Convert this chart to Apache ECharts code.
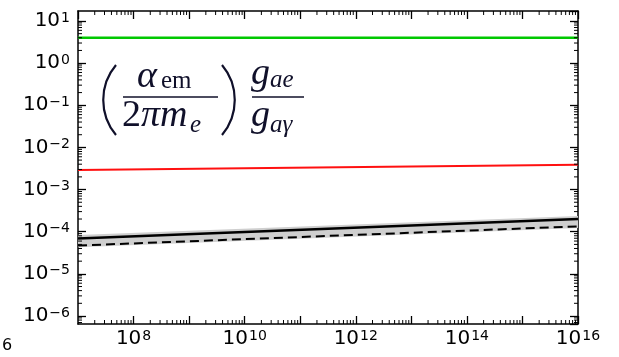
<!DOCTYPE html>
<html>
<head>
<meta charset="utf-8">
<script src="https://cdn.jsdelivr.net/npm/echarts@6/dist/echarts.min.js"></script>
<style>
  html, body { margin: 0; padding: 0; background: #fff; }
  #main { width: 619px; height: 357px; }
</style>
</head>
<body>
<div id="main"></div>
<script>
// axis ranges (log scale)
var xMin = 1e7, xMax = 1e16;
var yMin = Math.pow(10, -6.19), yMax = Math.pow(10, 1.237);

// curves at the two ends
var greenLine = [[1e7, 4.0], [1e16, 4.0]];
var redLine = [[1e7, 2.93e-3], [1e16, 3.9e-3]];
var blackSolid = [[1e7, 6.9e-5], [1e16, 2.0e-4]];
var blackDashed = [[1e7, 4.7e-5], [1e16, 1.34e-4]];
var bandUpper = [[1e7, 8.3e-5], [1e16, 2.35e-4]];
var bandLower = [[1e7, 4.3e-5], [1e16, 1.22e-4]];

// minor tick values (2..9 in each decade)
var xMinorTicks = [];
for (var d = 7; d < 16; d++) {
  for (var k = 2; k <= 9; k++) xMinorTicks.push([k * Math.pow(10, d), 1]);
}
var yMinorTicks = [];
for (var e = -7; e <= 1; e++) {
  for (var m = 2; m <= 9; m++) {
    var v = m * Math.pow(10, e);
    if (v > yMin && v < yMax) yMinorTicks.push([1e10, v]);
  }
}

var myChart = echarts.init(document.getElementById('main'));

function powLabel(val, evenOnly) {
  var p = Math.round(Math.log(val) / Math.LN10);
  if (evenOnly && p % 2 !== 0) return '';
  var s = p < 0 ? '\u2212' + (-p) : '' + p;
  return '{b|10}{s|' + s + '}';
}
function labelRich() {
  return {
    b: { fontFamily: 'DejaVu Sans', fontSize: 20, color: '#000', verticalAlign: 'bottom' },
    s: { fontFamily: 'DejaVu Sans', fontSize: 14, color: '#000', verticalAlign: 'top', padding: [0, 0, 0, 1] }
  };
}
function axisLine() { return { show: true, lineStyle: { color: '#000', width: 1.5 } }; }
function majorTick() { return { show: true, inside: true, length: 8, lineStyle: { color: '#000', width: 1.3 } }; }

function minorX(params, api) {
  var cs = params.coordSys;
  var x = api.coord([api.value(0), 1])[0];
  var b = cs.y + cs.height;
  return {
    type: 'group',
    children: [
      { type: 'line', shape: { x1: x, y1: b, x2: x, y2: b - 4 }, style: { stroke: '#000', lineWidth: 1 } },
      { type: 'line', shape: { x1: x, y1: cs.y, x2: x, y2: cs.y + 4 }, style: { stroke: '#000', lineWidth: 1 } }
    ]
  };
}
function minorY(params, api) {
  var cs = params.coordSys;
  var y = api.coord([1e10, api.value(1)])[1];
  var r = cs.x + cs.width;
  return {
    type: 'group',
    children: [
      { type: 'line', shape: { x1: cs.x, y1: y, x2: cs.x + 4, y2: y }, style: { stroke: '#000', lineWidth: 1 } },
      { type: 'line', shape: { x1: r, y1: y, x2: r - 4, y2: y }, style: { stroke: '#000', lineWidth: 1 } }
    ]
  };
}
function bandItem(params, api) {
  var pts = [];
  for (var i = 0; i < bandUpper.length; i++) pts.push(api.coord(bandUpper[i]));
  for (var j = bandLower.length - 1; j >= 0; j--) pts.push(api.coord(bandLower[j]));
  return { type: 'polygon', shape: { points: pts }, style: { fill: '#cfcfcf' } };
}

var ink = '#10102a';
function txt(x, y, text, size, italic) {
  return {
    type: 'text', x: x, y: y, z: 100,
    style: {
      text: text, fill: ink, fontFamily: 'Liberation Serif', fontSize: size,
      fontStyle: italic ? 'italic' : 'normal', verticalAlign: 'middle', align: 'left'
    }
  };
}

var option = {
  animation: false,
  grid: { left: 78, right: 41, top: 11, bottom: 33 },
  xAxis: [
    {
      type: 'log', min: xMin, max: xMax, position: 'bottom',
      axisLine: axisLine(), axisTick: majorTick(), splitLine: { show: false },
      axisLabel: { margin: 5, formatter: function (v) { return powLabel(v, true); }, rich: labelRich(), showMinLabel: false, showMaxLabel: true }
    },
    {
      type: 'log', min: xMin, max: xMax, position: 'top',
      axisLine: axisLine(), axisTick: majorTick(), splitLine: { show: false },
      axisLabel: { show: false }
    }
  ],
  yAxis: [
    {
      type: 'log', min: yMin, max: yMax, position: 'left',
      axisLine: axisLine(), axisTick: majorTick(), splitLine: { show: false },
      axisLabel: { margin: 8, formatter: function (v) { return powLabel(v, false); }, rich: labelRich(), showMinLabel: false, showMaxLabel: false }
    },
    {
      type: 'log', min: yMin, max: yMax, position: 'right',
      axisLine: axisLine(), axisTick: majorTick(), splitLine: { show: false },
      axisLabel: { show: false }
    }
  ],
  series: [
    { type: 'custom', renderItem: bandItem, data: [[1e10, 1e-4]], z: 1 },
    { type: 'line', data: greenLine, showSymbol: false, lineStyle: { color: '#00c800', width: 2.5 }, z: 3 },
    { type: 'line', data: redLine, showSymbol: false, lineStyle: { color: '#ff1010', width: 2 }, z: 3 },
    { type: 'line', data: blackSolid, showSymbol: false, lineStyle: { color: '#000', width: 2.5 }, z: 3 },
    { type: 'line', data: blackDashed, showSymbol: false, lineStyle: { color: '#000', width: 2, type: [9, 5] }, z: 3 },
    { type: 'custom', renderItem: minorX, data: xMinorTicks, z: 5 },
    { type: 'custom', renderItem: minorY, data: yMinorTicks, z: 5 }
  ],
  graphic: [
    // parentheses
    { type: 'bezierCurve', z: 100, shape: { x1: 116, y1: 65, cpx1: 99, cpy1: 85, cpx2: 99, cpy2: 115, x2: 116, y2: 135 }, style: { stroke: ink, lineWidth: 2.2, fill: null } },
    { type: 'bezierCurve', z: 100, shape: { x1: 222, y1: 65, cpx1: 239, cpy1: 85, cpx2: 239, cpy2: 115, x2: 222, y2: 135 }, style: { stroke: ink, lineWidth: 2.2, fill: null } },
    // fraction bars
    { type: 'line', z: 100, shape: { x1: 123, y1: 97, x2: 218, y2: 97 }, style: { stroke: ink, lineWidth: 1.5 } },
    { type: 'line', z: 100, shape: { x1: 252, y1: 97, x2: 304, y2: 97 }, style: { stroke: ink, lineWidth: 1.5 } },
    // alpha_em
    txt(137, 77, '\u03b1', 38, true),
    txt(161, 81, 'em', 25, false),
    // 2 pi m_e
    txt(122, 116, '2', 38, false),
    txt(141, 116, '\u03c0m', 38, true),
    txt(190, 125, 'e', 25, true),
    // g_ae / g_a gamma
    txt(251, 74, 'g', 38, true),
    txt(270, 80, 'ae', 25, true),
    txt(251, 116, 'g', 38, true),
    txt(270, 125, 'a\u03b3', 25, true),
    // stray clipped label at the bottom-left corner
    { type: 'text', x: 2, y: 346, style: { text: '6', fill: '#000', fontFamily: 'DejaVu Sans', fontSize: 16, verticalAlign: 'middle' } }
  ]
};

myChart.setOption(option);
</script>
</body>
</html>
